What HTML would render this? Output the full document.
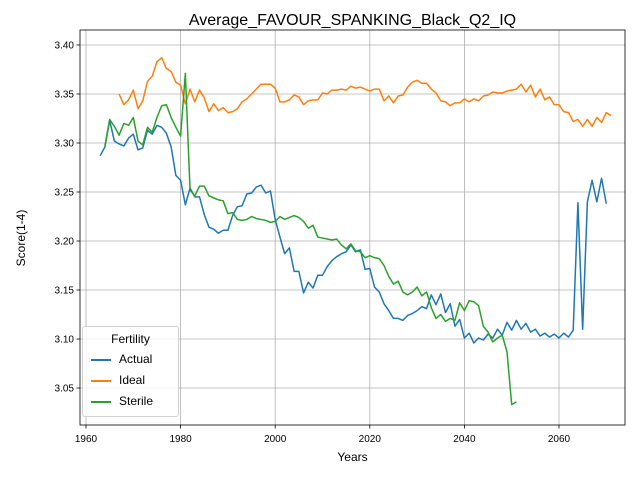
<!DOCTYPE html>
<html><head><meta charset="utf-8"><style>
html,body{margin:0;padding:0;background:#fff;}
svg{display:block;font-family:"Liberation Sans","DejaVu Sans",sans-serif;}
</style></head><body>
<svg id="chart" width="640" height="480"></svg>
<script>
const actualStart = 1963;
const actualValues = [3.287,3.296,3.323,3.302,3.299,3.297,3.305,3.309,3.293,3.295,3.313,3.309,3.318,3.316,3.31,3.296,3.267,3.262,3.237,3.254,3.245,3.245,3.227,3.214,3.212,3.208,3.211,3.211,3.226,3.235,3.236,3.248,3.249,3.255,3.257,3.249,3.251,3.222,3.204,3.187,3.193,3.169,3.169,3.147,3.158,3.152,3.165,3.165,3.174,3.180,3.184,3.187,3.189,3.196,3.189,3.191,3.171,3.172,3.153,3.148,3.136,3.129,3.121,3.121,3.119,3.124,3.126,3.129,3.133,3.131,3.145,3.135,3.146,3.127,3.136,3.113,3.120,3.101,3.106,3.096,3.101,3.099,3.105,3.101,3.110,3.104,3.117,3.109,3.119,3.110,3.116,3.107,3.110,3.103,3.106,3.102,3.105,3.101,3.106,3.102,3.109,3.239,3.110,3.240,3.262,3.240,3.264,3.238];
const idealStart = 1967;
const idealValues = [3.350,3.339,3.344,3.354,3.335,3.343,3.363,3.368,3.383,3.387,3.376,3.373,3.362,3.359,3.340,3.355,3.342,3.354,3.346,3.332,3.340,3.333,3.336,3.331,3.332,3.335,3.342,3.345,3.350,3.355,3.360,3.360,3.360,3.356,3.342,3.342,3.344,3.349,3.347,3.339,3.343,3.344,3.344,3.351,3.350,3.354,3.354,3.355,3.354,3.358,3.356,3.357,3.355,3.353,3.355,3.355,3.343,3.348,3.341,3.348,3.349,3.357,3.362,3.364,3.361,3.361,3.355,3.351,3.343,3.342,3.338,3.341,3.341,3.345,3.342,3.345,3.343,3.348,3.349,3.352,3.351,3.351,3.353,3.354,3.355,3.360,3.352,3.359,3.347,3.355,3.344,3.347,3.339,3.339,3.332,3.331,3.322,3.324,3.317,3.324,3.317,3.326,3.321,3.331,3.328];
const sterileStart = 1964;
const sterileValues = [3.297,3.324,3.317,3.308,3.320,3.318,3.326,3.302,3.298,3.316,3.311,3.326,3.338,3.339,3.326,3.316,3.307,3.371,3.252,3.246,3.256,3.256,3.246,3.244,3.242,3.241,3.228,3.229,3.222,3.221,3.222,3.225,3.223,3.222,3.221,3.219,3.220,3.225,3.222,3.224,3.226,3.224,3.220,3.213,3.216,3.204,3.203,3.202,3.201,3.202,3.196,3.192,3.197,3.190,3.189,3.183,3.185,3.183,3.182,3.175,3.164,3.156,3.159,3.148,3.145,3.148,3.153,3.144,3.148,3.132,3.121,3.125,3.118,3.121,3.119,3.137,3.129,3.139,3.138,3.134,3.113,3.107,3.097,3.101,3.104,3.087,3.033,3.036];
const xTicks = [1960,1980,2000,2020,2040,2060];
const yTicks = [3.05,3.10,3.15,3.20,3.25,3.30,3.35,3.40];

const NS="http://www.w3.org/2000/svg";
const svg=document.getElementById('chart');
const L=80,R=625,T=30,B=425;
const xs=yr=>86+(yr-1960)*(94.6/20);
const ys=v=>45+(3.40-v)*980;
function el(t,a,p){const e=document.createElementNS(NS,t);for(const k in a)e.setAttribute(k,a[k]);(p||svg).appendChild(e);return e;}

const grid=el('g',{});


xTicks.forEach(t=>{
  el('line',{x1:xs(t),x2:xs(t),y1:T,y2:B,stroke:'#b0b0b0','stroke-width':0.8},grid);
  el('line',{x1:xs(t),x2:xs(t),y1:B,y2:B+3.5,stroke:'#000','stroke-width':0.8});
  const tx=el('text',{x:xs(t),y:B+17,'text-anchor':'middle','font-size':10});
  tx.textContent=t;
  
  
});
yTicks.forEach(t=>{
  el('line',{x1:L,x2:R,y1:ys(t),y2:ys(t),stroke:'#b0b0b0','stroke-width':0.8},grid);
  el('line',{x1:L-3.5,x2:L,y1:ys(t),y2:ys(t),stroke:'#000','stroke-width':0.8});
  const tx=el('text',{x:L-6,y:ys(t)+3.5,'text-anchor':'end','font-size':10});
  tx.textContent=t.toFixed(2);
  
  
});
function series(start,vals,color,name){
  const d=vals.map((v,i)=>(i?'L':'M')+xs(start+i).toFixed(2)+','+ys(v).toFixed(2)).join('');
  const p=el('path',{d:d,fill:'none',stroke:color,'stroke-width':1.5,'stroke-linejoin':'round'});
  
  
}
series(actualStart,actualValues,'#1f77b4','actual-line');
series(idealStart,idealValues,'#ff7f0e','ideal-line');
series(sterileStart,sterileValues,'#2ca02c','sterile-line');
const frame=el('rect',{x:L,y:T,width:R-L,height:B-T,fill:'none',stroke:'#000','stroke-width':0.8});


</script>
<div style="position:absolute;left:0;top:0;width:640px;height:480px;pointer-events:none;font-family:'Liberation Sans','DejaVu Sans',sans-serif;">
  <div style="position:absolute;left:80px;width:545px;top:12px;text-align:center;font-size:16px;">Average_FAVOUR_SPANKING_Black_Q2_IQ</div>
  <div style="position:absolute;left:80px;width:545px;top:450px;text-align:center;font-size:12px;">Years</div>
  <div style="position:absolute;left:-29px;top:231px;width:100px;text-align:center;font-size:12px;transform:rotate(-90deg);">Score(1-4)</div>
  <div style="position:absolute;left:82px;top:326px;width:95px;height:89px;border:1px solid #d0d0d0;border-radius:3px;background:rgba(255,255,255,0.8);font-size:12px;">
    <div style="text-align:center;margin-top:5px;">Fertility</div>
    <div style="position:absolute;left:8px;top:25px;"><span style="display:inline-block;width:20px;height:2px;background:#1f77b4;vertical-align:middle;margin-right:8px;"></span>Actual</div>
    <div style="position:absolute;left:8px;top:46px;"><span style="display:inline-block;width:20px;height:2px;background:#ff7f0e;vertical-align:middle;margin-right:8px;"></span>Ideal</div>
    <div style="position:absolute;left:8px;top:67px;"><span style="display:inline-block;width:20px;height:2px;background:#2ca02c;vertical-align:middle;margin-right:8px;"></span>Sterile</div>
  </div>
</div>
</body></html>
